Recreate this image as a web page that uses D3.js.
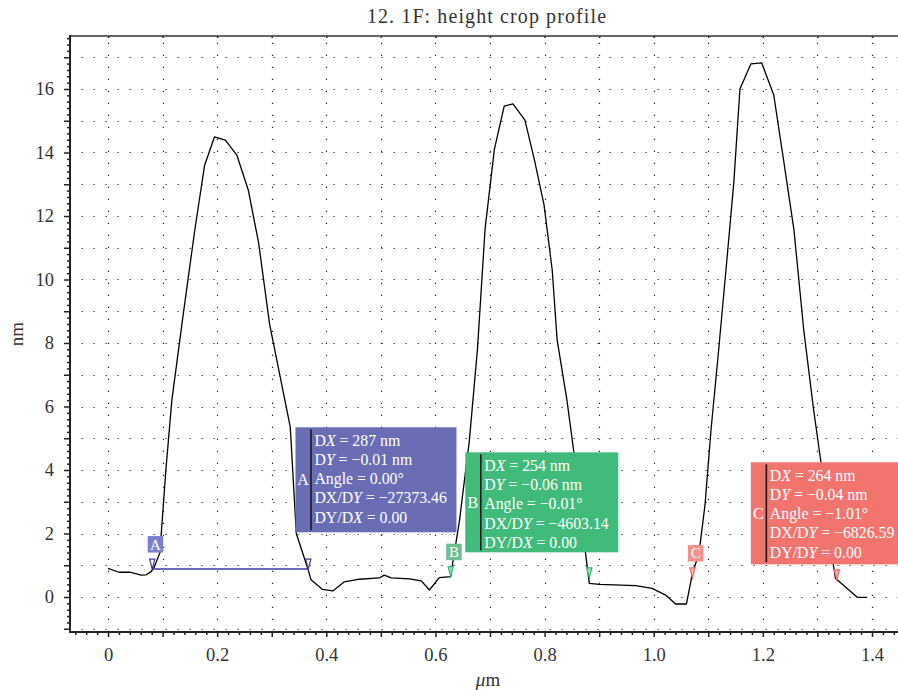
<!DOCTYPE html>
<html><head><meta charset="utf-8">
<script src="https://cdn.jsdelivr.net/npm/d3@7"></script>
<style>body{margin:0;background:#fff}svg{display:block}</style>
</head><body>
<script>
// ---------- data ----------
const profileX = [0.000,0.020,0.040,0.061,0.070,0.079,0.085,0.095,0.106,0.117,0.137,0.159,0.177,0.195,0.215,0.236,0.257,0.276,0.296,0.334,0.345,0.366,0.372,0.393,0.412,0.433,0.461,0.497,0.506,0.519,0.552,0.574,0.589,0.607,0.628,0.631,0.644,0.662,0.677,0.691,0.708,0.726,0.742,0.764,0.781,0.799,0.814,0.823,0.841,0.858,0.872,0.882,0.900,0.967,0.997,1.022,1.040,1.060,1.071,1.083,1.094,1.105,1.119,1.134,1.147,1.158,1.178,1.198,1.220,1.238,1.257,1.275,1.293,1.306,1.317,1.333,1.373,1.391];
const profileY = [0.90,0.78,0.78,0.69,0.70,0.80,0.95,1.39,4.0,6.2,8.8,11.56,13.6,14.49,14.39,13.92,12.82,11.15,8.6,5.35,2.0,0.90,0.54,0.24,0.19,0.48,0.56,0.60,0.69,0.60,0.57,0.51,0.22,0.61,0.64,1.0,2.4,4.9,7.8,11.6,14.1,15.46,15.53,15.02,13.8,12.35,10.3,8.1,6.2,4.0,1.8,0.43,0.40,0.36,0.27,0.06,-0.22,-0.22,0.75,1.38,2.9,5.26,7.78,10.6,13.1,16.0,16.79,16.82,15.81,13.76,11.56,8.4,5.9,4.3,2.4,0.59,-0.01,-0.01];

const xTickLabels = [0, 0.2, 0.4, 0.6, 0.8, 1.0, 1.2, 1.4];
const yTickLabels = [0, 2, 4, 6, 8, 10, 12, 14, 16];

const cursorNames = ["A", "B", "C"];
const cursorX1 = [0.081, 0.628, 1.071];
const cursorX2 = [0.367, 0.882, 1.3355];
const cursorY1 = [0.88, 0.64, 0.60];
const cursorY2 = [0.88, 0.60, 0.54];
const cursorLine = [true, false, false];
const boxX = [0.3435, 0.6547, 1.178];   // info box left edge (µm)
const boxY = [5.345, 4.557, 4.243];     // info box top (nm)
const boxLines = [
  [["D","X"," = 287 nm"],["D","Y"," = \u22120.01 nm"],["Angle = 0.00\u00b0"],["DX/D","Y"," = \u221227373.46"],["DY/D","X"," = 0.00"]],
  [["D","X"," = 254 nm"],["D","Y"," = \u22120.06 nm"],["Angle = \u22120.01\u00b0"],["DX/D","Y"," = \u22124603.14"],["DY/D","X"," = 0.00"]],
  [["D","X"," = 264 nm"],["D","Y"," = \u22120.04 nm"],["Angle = \u22121.01\u00b0"],["DX/D","Y"," = \u22126826.59"],["DY/D","Y"," = 0.00"]]
];

// ---------- style ----------
const W = 898, H = 690;
const FONT = "'Liberation Serif','DejaVu Serif',serif";
const boxFill = ["#6a6db4", "#40bb7b", "#f1746f"];
const tagFill = ["#7c80c8", "#6dbf8f", "#f2928c"];
const markStroke = ["#3a3a9e", "#38b575", "#f06a68"];
const markFill = ["#ffffff", "#9ee0bd", "#f8b1ad"];
const boxW = [161, 153, 160];
const boxH = [105, 100, 102];
const lineH = [19.2, 19.3, 19.2];

const svg = d3.select("body").append("svg").attr("width", W).attr("height", H)
  .style("font-family", FONT);

const x = d3.scaleLinear().domain([-0.0706, 1.4605]).range([69.5, 905]);
const y = d3.scaleLinear().domain([-1.102, 17.669]).range([632, 36]);

// grid
const gx = d3.range(0, 1.41, 0.1);
const gy = d3.range(-1, 17.5, 1);
svg.append("g").selectAll("line").data(gx).join("line")
  .attr("x1", d => Math.round(x(d)) + 0.5).attr("x2", d => Math.round(x(d)) + 0.5)
  .attr("y1", 632).attr("y2", 36)
  .attr("stroke", "#222").attr("stroke-width", 1.2).attr("stroke-dasharray", "1.2 10.8");
svg.append("g").selectAll("line").data(gy).join("line")
  .attr("y1", d => Math.round(y(d)) + 0.5).attr("y2", d => Math.round(y(d)) + 0.5)
  .attr("x1", 69.5).attr("x2", W)
  .attr("stroke", "#222").attr("stroke-width", 1.2).attr("stroke-dasharray", "1.2 10.8");

// profile line
const pts = profileX.map((v, i) => [v, profileY[i]]);
svg.append("path").datum(pts)
  .attr("fill", "none").attr("stroke", "#000").attr("stroke-width", 1.3)
  .attr("stroke-linejoin", "round")
  .attr("d", d3.line().x(d => x(d[0])).y(d => y(d[1])));

// axes
const xMinor = d3.range(-0.06, 1.47, 0.02).filter(v => Math.abs(v*10 - Math.round(v*10)) > 0.01);
const xMajor = d3.range(0, 1.45, 0.1);
const axB = svg.append("g").attr("transform", "translate(0,632)");
axB.call(d3.axisBottom(x).tickValues(xMinor).tickSize(3).tickFormat(""));
axB.append("g").call(d3.axisBottom(x).tickValues(xMajor).tickSize(5).tickFormat(""));
axB.append("g").call(d3.axisBottom(x).tickValues(xTickLabels).tickSize(0).tickPadding(16)
  .tickFormat(d => d3.format(".1f")(d).replace(/^0\.0$/, "0")));
axB.selectAll("path.domain").attr("stroke-width", 0);
axB.append("line").attr("x1", 69).attr("x2", W).attr("y1", 0).attr("y2", 0)
  .attr("stroke", "#222").attr("stroke-width", 2);

const axT = svg.append("g").attr("transform", "translate(0,36)");
axT.call(d3.axisBottom(x).tickValues(xMajor).tickSize(2).tickFormat(""));
axT.select("path.domain").remove();
axT.append("line").attr("x1", 69).attr("x2", W).attr("y1", 0).attr("y2", 0)
  .attr("stroke", "#333").attr("stroke-width", 1.6);

const yMinor = d3.range(-1, 17.61, 0.2).filter(v => Math.abs(v - Math.round(v)) > 0.01);
const yMajor = d3.range(-1, 17.5, 1);
const axL = svg.append("g").attr("transform", "translate(70,0)");
axL.call(d3.axisLeft(y).tickValues(yMinor).tickSize(3).tickFormat(""));
axL.append("g").call(d3.axisLeft(y).tickValues(yMajor).tickSize(6).tickFormat(""));
axL.append("g").call(d3.axisLeft(y).tickValues(yTickLabels).tickSize(0).tickPadding(16).tickFormat(d3.format("d")));
axL.selectAll("path.domain").attr("stroke-width", 0);
axL.append("line").attr("x1", 0).attr("x2", 0).attr("y1", 35).attr("y2", 633)
  .attr("stroke", "#222").attr("stroke-width", 2);

svg.selectAll(".tick line").attr("stroke", "#222").attr("stroke-width", 1.5);
svg.selectAll(".tick text").attr("font-family", FONT).attr("font-size", 18.5).attr("fill", "#333");

// titles
svg.append("text").attr("x", 487).attr("y", 23).attr("text-anchor", "middle")
  .attr("font-size", 20).attr("letter-spacing", 1.1).attr("fill", "#333").text("12. 1F: height crop profile");
svg.append("text").attr("transform", "translate(23,334) rotate(-90)").attr("text-anchor", "middle")
  .attr("font-size", 19).attr("fill", "#333").text("nm");
const xl = svg.append("text").attr("x", 488).attr("y", 686).attr("text-anchor", "middle")
  .attr("font-size", 19).attr("fill", "#333");
xl.append("tspan").attr("font-style", "italic").text("\u03bc");
xl.append("tspan").text("m");

// cursors
cursorNames.forEach((nm, i) => {
  const g = svg.append("g");
  const xa = x(cursorX1[i]), xb = x(cursorX2[i]);
  const ya = y(cursorY1[i]), yb = y(cursorY2[i]);
  if (cursorLine[i]) {
    g.append("line").attr("x1", xa).attr("x2", xb).attr("y1", ya).attr("y2", yb)
      .attr("stroke", markStroke[i]).attr("stroke-width", 1.6);
  }
  const tri = (cx, cy) => `M${cx},${cy}L${cx-2.6},${cy-10}L${cx+2.6},${cy-10}Z`;
  [[xa, ya], [xb, yb]].forEach(([cx, cy]) => {
    g.append("path").attr("d", tri(cx, cy)).attr("fill", markFill[i])
      .attr("stroke", markStroke[i]).attr("stroke-width", 1.2);
  });
  // tag
  g.append("rect").attr("x", xa - 4.5).attr("y", ya - 33).attr("width", 15.5).attr("height", 16.5)
    .attr("fill", tagFill[i]);
  g.append("text").attr("x", xa + 3.3).attr("y", ya - 19.5).attr("text-anchor", "middle")
    .attr("font-size", 15).attr("fill", "#fff").text(nm);

  // info box
  const bx = x(boxX[i]), by = y(boxY[i]);
  const b = svg.append("g");
  b.append("rect").attr("x", bx).attr("y", by).attr("width", boxW[i]).attr("height", boxH[i])
    .attr("fill", boxFill[i]);
  b.append("line").attr("x1", bx + 15.5).attr("x2", bx + 15.5).attr("y1", by + 2).attr("y2", by + boxH[i] - 2)
    .attr("stroke", "#1a1a1a").attr("stroke-width", 1.6);
  b.append("text").attr("x", bx + 7.5).attr("y", by + boxH[i] / 2 + 5.5).attr("text-anchor", "middle")
    .attr("font-size", 16).attr("fill", "#fff").text(nm);
  boxLines[i].forEach((parts, j) => {
    const t = b.append("text").attr("x", bx + 19).attr("y", by + 18.5 + j * lineH[i])
      .attr("font-size", 15.8).attr("fill", "#fff");
    parts.forEach((p, k) => {
      t.append("tspan").attr("font-style", (parts.length === 3 && k === 1) ? "italic" : null).text(p);
    });
  });
});
</script>
</body></html>
